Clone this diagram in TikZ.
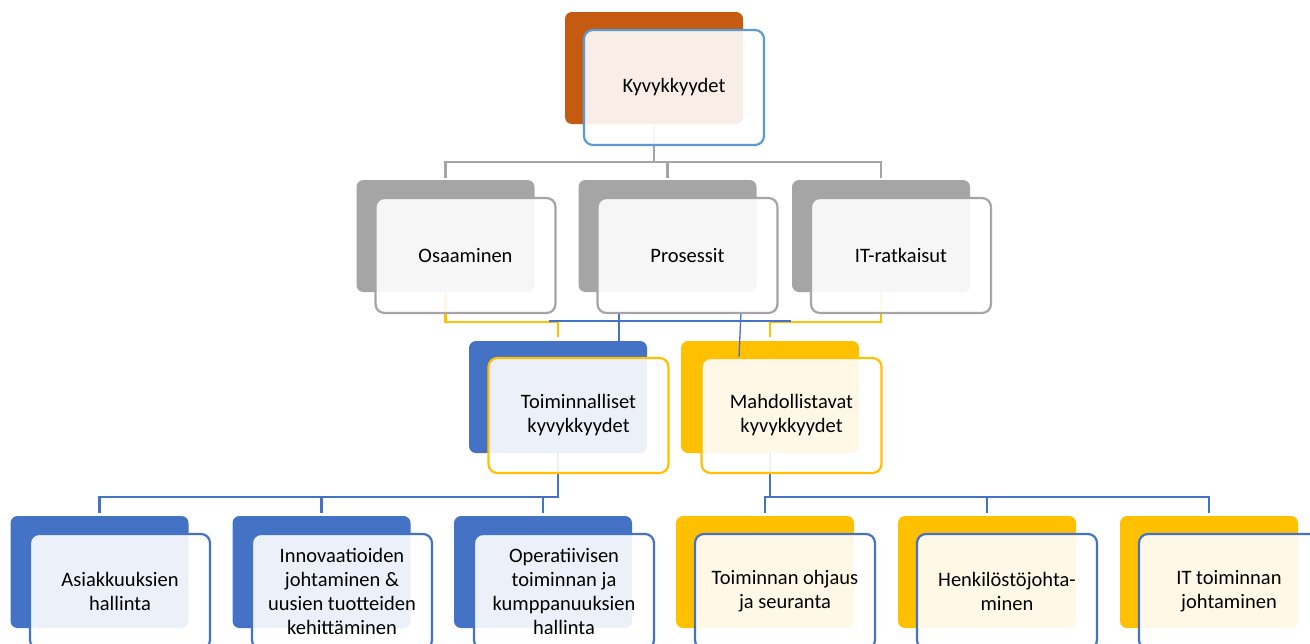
\documentclass[tikz,border=0pt]{standalone}
\usepackage{fontspec}
\setmainfont{Carlito}
\usetikzlibrary{calc}
\definecolor{rust}{HTML}{C55A11}
\definecolor{sky}{HTML}{5B9BD5}
\definecolor{stone}{HTML}{A5A5A5}
\definecolor{royal}{HTML}{4472C4}
\definecolor{gold}{HTML}{FFC000}

\begin{document}
\begin{tikzpicture}[x=1pt,y=-1pt,
  backbox/.style={rectangle, rounded corners=7pt, minimum width=178pt,
    minimum height=112pt, inner sep=0pt, fill=#1},
  frontbox/.style={rectangle, rounded corners=9pt, minimum width=180pt,
    minimum height=115pt, inner sep=2pt, draw=#1, line width=2.2pt,
    fill=white, fill opacity=0.9, text opacity=1, align=center,
    font=\fontsize{20.5}{24}\selectfont},
  greyline/.style={draw=stone, line width=2.4pt},
  goldline/.style={draw=gold, line width=2.6pt},
  thinblue/.style={draw=royal, line width=1.3pt},
  royalline/.style={draw=royal, line width=2.6pt}]

\useasboundingbox (0,0) rectangle (1310,643);

% back panels
\node[backbox=rust]  (kyvB) at (654,68) {};
\node[backbox=stone] (osaB) at (445.5,236) {};
\node[backbox=stone] (proB) at (667.5,236) {};
\node[backbox=stone] (itrB) at (881,236) {};
\node[backbox=royal] (toiB) at (558,397) {};
\node[backbox=gold]  (mahB) at (770,397) {};
\node[backbox=royal] (asiB) at (99.5,572) {};
\node[backbox=royal] (innB) at (321.5,572) {};
\node[backbox=royal] (opeB) at (543,572) {};
\node[backbox=gold]  (ohjB) at (765,572) {};
\node[backbox=gold]  (henB) at (987,572) {};
\node[backbox=gold]  (itjB) at (1209,572) {};

% connectors: top level to the three pillars
\coordinate (gbus) at (0,162);
\draw[greyline] (kyvB.south) -- (kyvB.south |- gbus);
\draw[greyline, shorten <=2pt, shorten >=2pt] (osaB.north) |- (itrB.north |- gbus) -- (itrB.north);
\draw[greyline, shorten >=2pt] (proB.north |- gbus) -- (proB.north);

% pillars to the two capability groups
\coordinate (ybus) at (0,322);
\draw[goldline, shorten >=4pt] (osaB.south) |- (toiB.north |- ybus) -- (toiB.north);
\draw[goldline, shorten >=4pt] (itrB.south) |- (mahB.north |- ybus) -- (mahB.north);

\coordinate (tl) at (549,321);
\coordinate (tr) at (791,321);
\draw[thinblue] (tl) -- (tr);
\coordinate (ta) at (619,312);
\draw[thinblue] (ta) -- (ta |- toiB.north);
\coordinate (tb) at (741,312);
\coordinate (tc) at (739,357);
\draw[thinblue] (tb) -- (tc);

% capability groups to their items
\coordinate (lbus) at (0,497);
\draw[royalline, shorten <=3pt] (asiB.north) |- (toiB.south |- lbus) -- (toiB.south);
\draw[royalline, shorten >=3pt] (innB.north |- lbus) -- (innB.north);
\draw[royalline, shorten >=3pt] (opeB.north |- lbus) -- (opeB.north);
\draw[royalline] (mahB.south) -- (mahB.south |- lbus);
\draw[royalline, shorten <=3pt, shorten >=3pt] (ohjB.north) |- (itjB.north |- lbus) -- (itjB.north);
\draw[royalline, shorten >=3pt] (henB.north |- lbus) -- (henB.north);

% front panels with labels
\node[frontbox=sky]   (kyv) at (674,87.5)    {Kyvykkyydet};
\node[frontbox=stone] (osa) at (465.5,255.5) {Osaaminen};
\node[frontbox=stone] (pro) at (687.5,255.5) {Prosessit};
\node[frontbox=stone] (itr) at (901,255.5)   {IT-ratkaisut};
\node[frontbox=gold]  (toi) at (578.5,415.5) {Toiminnalliset\\kyvykkyydet};
\node[frontbox=gold]  (mah) at (791.5,415.5) {Mahdollistavat\\kyvykkyydet};
\node[frontbox=royal] (asi) at (120,591.5)   {Asiakkuuksien\\hallinta};
\node[frontbox=royal] (inn) at (342,591.5)   {Innovaatioiden\\johtaminen \&\\uusien tuotteiden\\kehittäminen};
\node[frontbox=royal] (ope) at (564,591.5)   {Operatiivisen\\toiminnan ja\\kumppanuuksien\\hallinta};
\node[frontbox=royal] (ohj) at (785,591.5)   {Toiminnan ohjaus\\ja seuranta};
\node[frontbox=royal] (hen) at (1007,591.5)  {Henkilöstöjohta-\\minen};
\node[frontbox=royal] (itj) at (1229,591.5)  {IT toiminnan\\johtaminen};
\end{tikzpicture}
\end{document}
